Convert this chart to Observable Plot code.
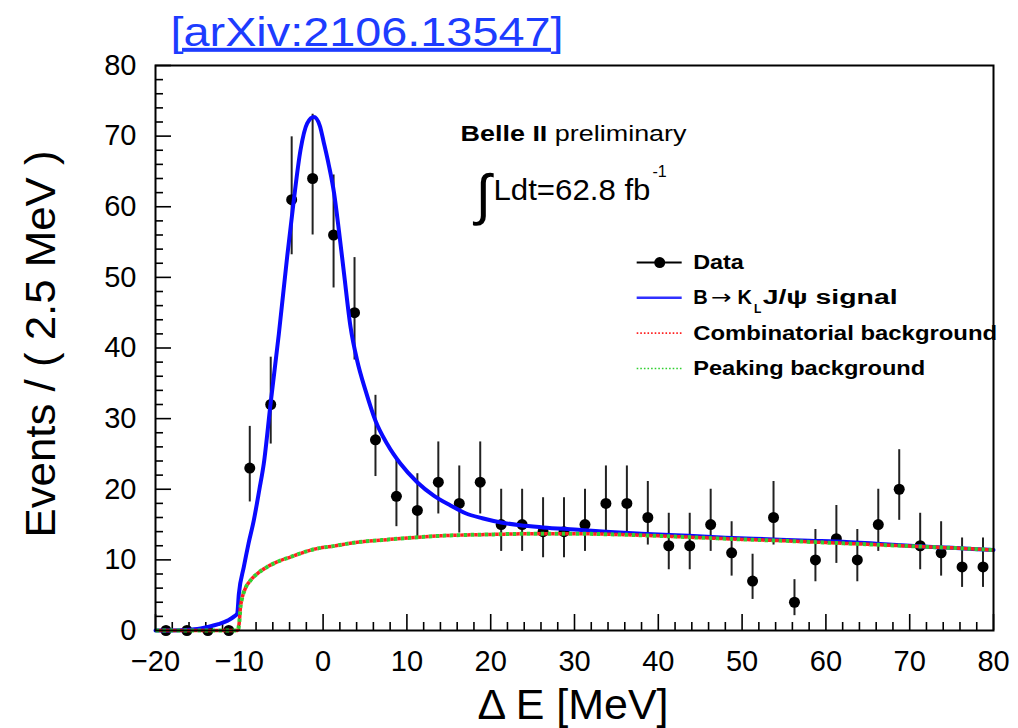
<!DOCTYPE html>
<html><head><meta charset="utf-8">
<script src="https://cdn.jsdelivr.net/npm/d3@7"></script>
<script src="https://cdn.jsdelivr.net/npm/@observablehq/plot@0.6"></script>
<style>body{margin:0;background:#fff;} #chart{width:1018px;height:728px;}</style>
</head><body><div id="chart"></div>
<script>
// ---- data ----
const binCenters = [-18.75,-16.25,-13.75,-11.25,-8.75,-6.25,-3.75,-1.25,1.25,3.75,6.25,8.75,11.25,13.75,16.25,18.75,21.25,23.75,26.25,28.75,31.25,33.75,36.25,38.75,41.25,43.75,46.25,48.75,51.25,53.75,56.25,58.75,61.25,63.75,66.25,68.75,71.25,73.75,76.25,78.75];
const counts = [0,0,0,0,23,32,61,64,56,45,27,19,17,21,18,21,15,15,14,14,15,18,18,16,12,12,15,11,7,16,4,10,13,10,15,20,12,11,9,9];
const errLow = [0,0,0,0,18.2,26.4,53.2,56.0,48.5,38.3,21.8,14.7,12.9,16.5,13.8,16.5,11.2,11.2,10.3,10.3,11.2,13.8,13.8,12.1,8.6,8.6,11.2,7.7,4.4,12.1,2.1,6.9,9.5,6.9,11.2,15.6,8.6,7.7,6.1,6.1];
const errHigh = [0,0,0,0,28.9,38.7,69.9,73.1,64.5,52.8,33.3,24.4,22.2,26.7,23.3,26.7,20.0,20.0,18.8,18.8,20.0,23.3,23.3,21.1,16.6,16.6,20.0,15.4,10.8,21.1,7.2,14.3,17.7,14.3,20.0,25.6,16.6,15.4,13.1,13.1];

// total fit (signal + background)
const fitX = [-20,-17,-15,-13.8,-12.5,-11.4,-10.6,-10.25,-10.05,-9.46,-8.9,-8.27,-7.6,-7.08,-6.28,-5.28,-4.29,-3.5,-2.7,-1.9,-1.1,-0.4,0.1,0.7,1.3,1.9,2.5,3.27,4.07,5.06,6.25,7.65,9.24,11.23,13.2,15.2,17,19,21.25,23.5,26.25,30,33.75,38,43.6,48,53.75,58,61.2,66,70,75,80];
const fitY = [0,0.05,0.2,0.5,0.9,1.4,2.0,2.4,5.2,9.0,12.3,15.6,20.0,23.6,32.0,42.0,52.9,60.9,68.0,71.8,72.7,71.5,69.0,65.8,62.0,56.5,50.5,43.0,38.2,34.0,29.7,26.4,23.6,21.0,19.1,17.7,16.6,15.9,15.3,14.9,14.6,14.3,14.0,13.7,13.4,13.15,12.9,12.7,12.6,12.3,12.0,11.7,11.4];

// background components
const bkgX = [-20,-10.2,-10.0,-9.86,-9.7,-9.3,-8.66,-7.8,-6.67,-5.3,-3.9,-2.5,-1.1,1.5,4.1,7,10,14,20,25,30,35,40,45,50,55,60,65,70,75,80];
const combY = [0,0,1.2,3.3,4.4,5.9,7.1,8.1,9.0,9.8,10.4,11.0,11.5,12.0,12.5,12.8,13.1,13.4,13.6,13.7,13.7,13.6,13.4,13.15,12.9,12.7,12.45,12.2,11.95,11.7,11.4];
const peakY = [0,0,1.2,3.3,4.4,5.9,7.1,8.1,9.0,9.8,10.4,11.0,11.5,12.0,12.5,12.8,13.1,13.4,13.6,13.7,13.7,13.6,13.4,13.15,12.9,12.7,12.45,12.2,11.95,11.7,11.4];

const xTicks = [-20,-10,0,10,20,30,40,50,60,70,80];
const yTicks = [0,10,20,30,40,50,60,70,80];

const legendLabels = ["Data", "B", "\u2192", "K", "L", "J/\u03c8 signal", "Combinatorial background", "Peaking background"];

// ---- tables ----
const points = binCenters.map((x, i) => ({x, y: counts[i], lo: errLow[i], hi: errHigh[i]}));
const fit = fitX.map((x, i) => ({x, y: fitY[i]}));
const comb = bkgX.map((x, i) => ({x, y: combY[i]}));
const peak = bkgX.map((x, i) => ({x, y: peakY[i]}));

// ---- layout ----
const W = 1018, H = 728, ML = 155, MR = 25, MT = 65, MB = 98;
const FW = W - ML - MR, FH = H - MT - MB;
const majorLen = 16, minorLen = 8;
const xMinor = d3.range(-20, 80.01, 2).filter(v => v % 10 !== 0);
const yMinor = d3.range(0, 80.01, 2).filter(v => v % 10 !== 0);

const font = "'Liberation Sans', Arial, Helvetica, sans-serif";
const blue = "#0a0aff", red = "#ff2020", green = "#30d030";

const txt = (arr, opts) => Plot.text(arr, {x: "x", y: "y", text: "t", fill: "black", lineAnchor: "middle", ...opts});

const chart = Plot.plot({
  width: W, height: H,
  marginLeft: ML, marginRight: MR, marginTop: MT, marginBottom: MB,
  style: {fontFamily: font, fontSize: "29px", background: "white", color: "black", overflow: "visible"},
  x: {domain: [-20, 80]},
  y: {domain: [0, 80]},
  marks: [
    // ticks pointing inward
    Plot.ruleX(xTicks, {x: d => d, insetTop: FH - majorLen, stroke: "black", strokeWidth: 1.6}),
    Plot.ruleX(xMinor, {x: d => d, insetTop: FH - minorLen, stroke: "black", strokeWidth: 1.6}),
    Plot.ruleY(yTicks, {y: d => d, insetRight: FW - majorLen, stroke: "black", strokeWidth: 1.6}),
    Plot.ruleY(yMinor, {y: d => d, insetRight: FW - minorLen, stroke: "black", strokeWidth: 1.6}),
    Plot.axisX({ticks: xTicks, tickSize: 0, tickPadding: 20, fontSize: 29, label: null}),
    Plot.axisY({ticks: yTicks, tickSize: 0, tickPadding: 19, fontSize: 29, label: null}),
    // data
    Plot.ruleX(points.filter(d => d.y > 0), {x: "x", y1: "lo", y2: "hi", stroke: "#222", strokeWidth: 2}),
    Plot.dot(points, {x: "x", y: "y", r: 5.5, fill: "black"}),
    // fit curves
    Plot.line(fit, {x: "x", y: "y", stroke: blue, strokeWidth: 4, curve: "monotone-x"}),
    Plot.line(peak, {x: "x", y: "y", stroke: green, strokeWidth: 4, strokeDasharray: "3.5,3.5", strokeLinecap: "butt", curve: "monotone-x"}),
    Plot.line(comb, {x: "x", y: "y", stroke: red, strokeWidth: 3.5, strokeDasharray: "3.5,3.5", strokeDashoffset: 3.5, strokeLinecap: "butt", curve: "monotone-x"}),
    // axis titles
    Plot.text(["\u0394 E [MeV]"], {text: d => d, frameAnchor: "bottom", textAnchor: "middle", lineAnchor: "middle", dx: -1.5, dy: 75, fontSize: 42, fill: "black"}),
    Plot.text(["Events / ( 2.5 MeV )"], {text: d => d, frameAnchor: "left", textAnchor: "middle", lineAnchor: "middle", rotate: -90, dx: -114, dy: -4, fontSize: 42, fill: "black"}),
    // title link
    txt([{x: -18.21, y: 84.6, t: "[arXiv:2106.13547]"}], {textAnchor: "start", fontSize: 40, fill: "#1d3cff"}),
    // annotations
    txt([{x: 16.40, y: 70.37, t: "Belle II preliminary"}], {textAnchor: "start", fontSize: 22}),
    txt([{x: 19.14, y: 61.45, t: "\u222b"}], {fontSize: 56}),
    txt([{x: 20.33, y: 62.30, t: "Ldt=62.8 fb"}], {textAnchor: "start", fontSize: 29}),
    txt([{x: 39.31, y: 64.92, t: "-1"}], {textAnchor: "start", fontSize: 16}),
    // legend symbols
    Plot.ruleY([52.1], {y: d => d, x1: 37.48, x2: 42.85, stroke: "black", strokeWidth: 2}),
    Plot.dot([52.1], {y: d => d, x: () => 40.17, r: 5.5, fill: "black"}),
    Plot.ruleY([47.1], {y: d => d, x1: 37.48, x2: 42.85, stroke: "#3030ff", strokeWidth: 2.5}),
    Plot.ruleY([42.1], {y: d => d, x1: 37.48, x2: 42.85, stroke: red, strokeWidth: 1.6, strokeDasharray: "1.6,2"}),
    Plot.ruleY([37.1], {y: d => d, x1: 37.48, x2: 42.85, stroke: green, strokeWidth: 1.6, strokeDasharray: "1.6,2"}),
    // legend labels
    txt([{x: 44.16, y: 52.1, t: legendLabels[0]},
         {x: 44.16, y: 47.1, t: legendLabels[1]},
         {x: 49.45, y: 47.1, t: legendLabels[3]},
         {x: 52.45, y: 47.1, t: legendLabels[5]},
         {x: 44.16, y: 42.1, t: legendLabels[6]},
         {x: 44.16, y: 37.1, t: legendLabels[7]}], {textAnchor: "start", fontSize: 20, fontWeight: "bold"}),
    txt([{x: 46.3, y: 47.1, t: legendLabels[2]}], {textAnchor: "start", fontSize: 20, fontFamily: "'DejaVu Sans', sans-serif"}),
    txt([{x: 51.42, y: 45.55, t: legendLabels[4]}], {textAnchor: "start", fontSize: 12, fontWeight: "bold"}),
    Plot.frame({stroke: "black", strokeWidth: 2})
  ]
});
document.getElementById("chart").appendChild(chart);

// fit text widths to the reference
const widths = {
  "[arXiv:2106.13547]": 393, "\u0394 E [MeV]": 191, "Events / ( 2.5 MeV )": 387,
  "Belle II preliminary": 226, "Ldt=62.8 fb": 157, "Data": 50.7, "\u2192": 20.6, "B": 14.5,
  "J/\u03c8 signal": 135, "Combinatorial background": 304, "Peaking background": 232
};
d3.select(chart).selectAll("text").each(function() {
  const t = this.textContent;
  if (t === "Belle II preliminary") {
    const s = d3.select(this);
    s.text(null);
    s.append("tspan").attr("font-weight", "bold").text("Belle II");
    s.append("tspan").attr("font-weight", "normal").text(" preliminary");
  }
  if (t === "[arXiv:2106.13547]") this.style.textDecoration = "underline";
  if (widths[t]) {
    this.setAttribute("textLength", widths[t]);
    this.setAttribute("lengthAdjust", "spacingAndGlyphs");
  }
});
</script>
</body></html>
